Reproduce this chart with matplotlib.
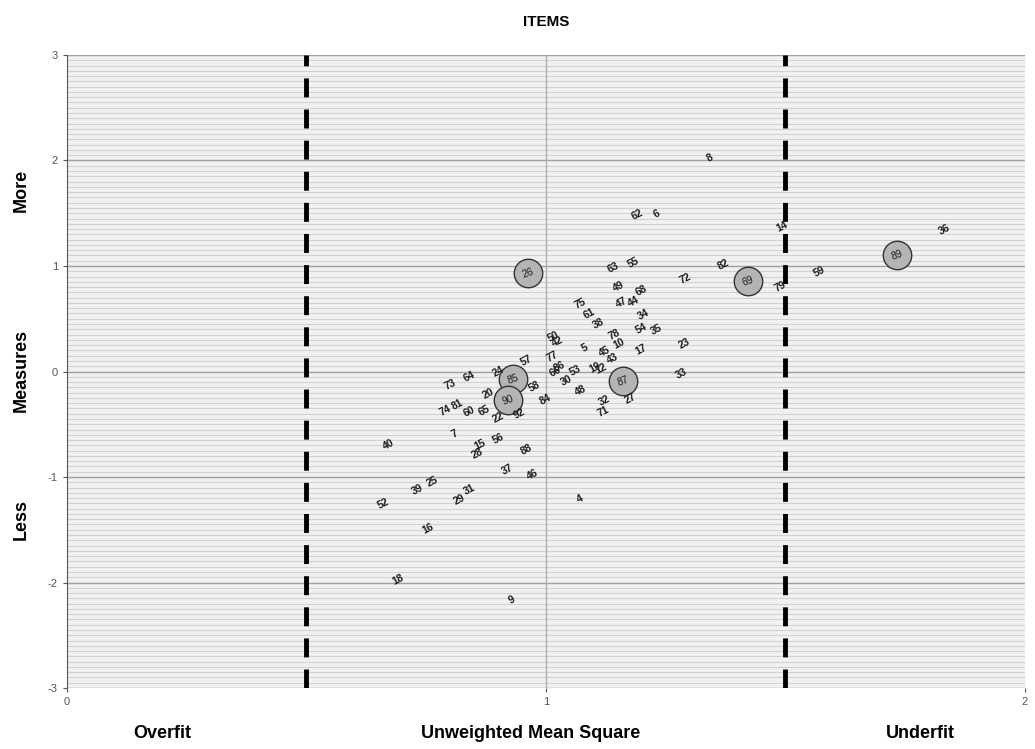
import matplotlib
matplotlib.use('Agg')
import matplotlib.pyplot as plt
import numpy as np

plt.rcParams['font.family'] = ['Liberation Sans', 'DejaVu Sans']
plt.rcParams['axes.unicode_minus'] = False

# items: label, unweighted mean square (x), measure (y)
item_labels = ["8", "62", "6", "14", "36", "63", "55", "72", "82", "59", "79", "49",
               "68", "75", "61", "47", "44", "38", "34", "54", "35", "78", "10", "45",
               "5", "43", "17", "23", "33", "27", "32", "71", "48", "30", "53", "50",
               "42", "19", "12", "77", "86", "66", "84", "57", "24", "58", "73", "64",
               "20", "74", "81", "60", "65", "22", "92", "7", "40", "15", "28", "56",
               "88", "37", "46", "39", "25", "29", "31", "52", "16", "4", "18", "9"]
item_x = [1.342, 1.192, 1.232, 1.493, 1.833, 1.140, 1.182, 1.292, 1.370, 1.572, 1.489, 1.152,
          1.200, 1.071, 1.090, 1.159, 1.184, 1.111, 1.203, 1.200, 1.232, 1.142, 1.152, 1.123,
          1.081, 1.140, 1.200, 1.290, 1.284, 1.177, 1.123, 1.119, 1.073, 1.044, 1.061, 1.015,
          1.025, 1.102, 1.115, 1.013, 1.029, 1.019, 0.998, 0.960, 0.900, 0.977, 0.800, 0.841,
          0.879, 0.789, 0.816, 0.841, 0.871, 0.900, 0.944, 0.810, 0.672, 0.862, 0.858, 0.900,
          0.960, 0.919, 0.973, 0.731, 0.762, 0.820, 0.841, 0.660, 0.754, 1.071, 0.691, 0.929]
item_y = [2.02, 1.49, 1.49, 1.37, 1.34, 0.98, 1.03, 0.88, 1.01, 0.95, 0.80, 0.80,
          0.77, 0.64, 0.55, 0.65, 0.66, 0.45, 0.54, 0.41, 0.40, 0.35, 0.26, 0.19,
          0.22, 0.12, 0.21, 0.26, -0.02, -0.26, -0.28, -0.38, -0.18, -0.09, 0.01, 0.33,
          0.28, 0.04, 0.03, 0.14, 0.05, 0.00, -0.27, 0.10, 0.00, -0.14, -0.12, -0.05,
          -0.21, -0.37, -0.31, -0.38, -0.37, -0.44, -0.40, -0.59, -0.69, -0.69, -0.78, -0.64,
          -0.74, -0.93, -0.98, -1.12, -1.04, -1.21, -1.12, -1.25, -1.49, -1.21, -1.97, -2.17]

# eingekreiste items
bubble_labels = ["26", "89", "69", "87", "85", "90"]
bubble_x = [0.962, 1.733, 1.422, 1.161, 0.931, 0.921]
bubble_y = [0.93, 1.10, 0.86, -0.09, -0.07, -0.27]

fit_limits = [0.5, 1.5]

fig = plt.figure(figsize=(10.35, 7.49), dpi=100)
ax = fig.add_axes([0.0647, 0.0814, 0.9253, 0.8452])
ax.set_facecolor('#f1f1f1')

# dichte horizontale streifen
for yy in np.arange(-3, 3.001, 0.05):
    ax.axhline(yy, color='#d2d2d2', linewidth=0.8, zorder=0)
for yy in range(-3, 4):
    ax.axhline(yy, color='#a0a0a0', linewidth=1.0, zorder=1)
ax.axvline(1, color='#b0b0b0', linewidth=1.0, zorder=1)

for xv in fit_limits:
    ax.axvline(xv, color='black', linewidth=3.5, linestyle=(0, (3.9, 2.5)), zorder=3)

ax.scatter(bubble_x, bubble_y, s=420, facecolor='#b4b4b4', edgecolor='#333333',
           linewidth=1.0, zorder=4)
for lab, x, y in zip(bubble_labels, bubble_x, bubble_y):
    ax.text(x, y, lab, ha='center', va='center', fontsize=7.5, color='#222222',
            rotation=20, zorder=5)

for lab, x, y in zip(item_labels, item_x, item_y):
    ax.text(x, y, lab, ha='center', va='center', fontsize=7.5, fontweight='bold',
            color='#1a1a1a', rotation=28, zorder=5)

ax.set_xlim(0, 2)
ax.set_ylim(-3, 3)
ax.set_xticks([0, 1, 2])
ax.set_yticks([-3, -2, -1, 0, 1, 2, 3])
ax.tick_params(labelsize=8, colors='#555555', length=3)
for s in ['top', 'right', 'bottom']:
    ax.spines[s].set_visible(False)
ax.spines['left'].set_color('#555555')

fig.text(0.5275, 0.971, 'ITEMS', ha='center', va='center', fontsize=11, fontweight='bold')
fig.text(0.157, 0.021, 'Overfit', ha='center', va='center', fontsize=13, fontweight='bold')
fig.text(0.513, 0.021, 'Unweighted Mean Square', ha='center', va='center',
         fontsize=13, fontweight='bold')
fig.text(0.889, 0.021, 'Underfit', ha='center', va='center', fontsize=13, fontweight='bold')
fig.text(0.021, 0.746, 'More', ha='center', va='center', fontsize=13, fontweight='bold',
         rotation=90)
fig.text(0.021, 0.506, 'Measures', ha='center', va='center', fontsize=13, fontweight='bold',
         rotation=90)
fig.text(0.021, 0.306, 'Less', ha='center', va='center', fontsize=13, fontweight='bold',
         rotation=90)

plt.savefig('out.png', dpi=100)
